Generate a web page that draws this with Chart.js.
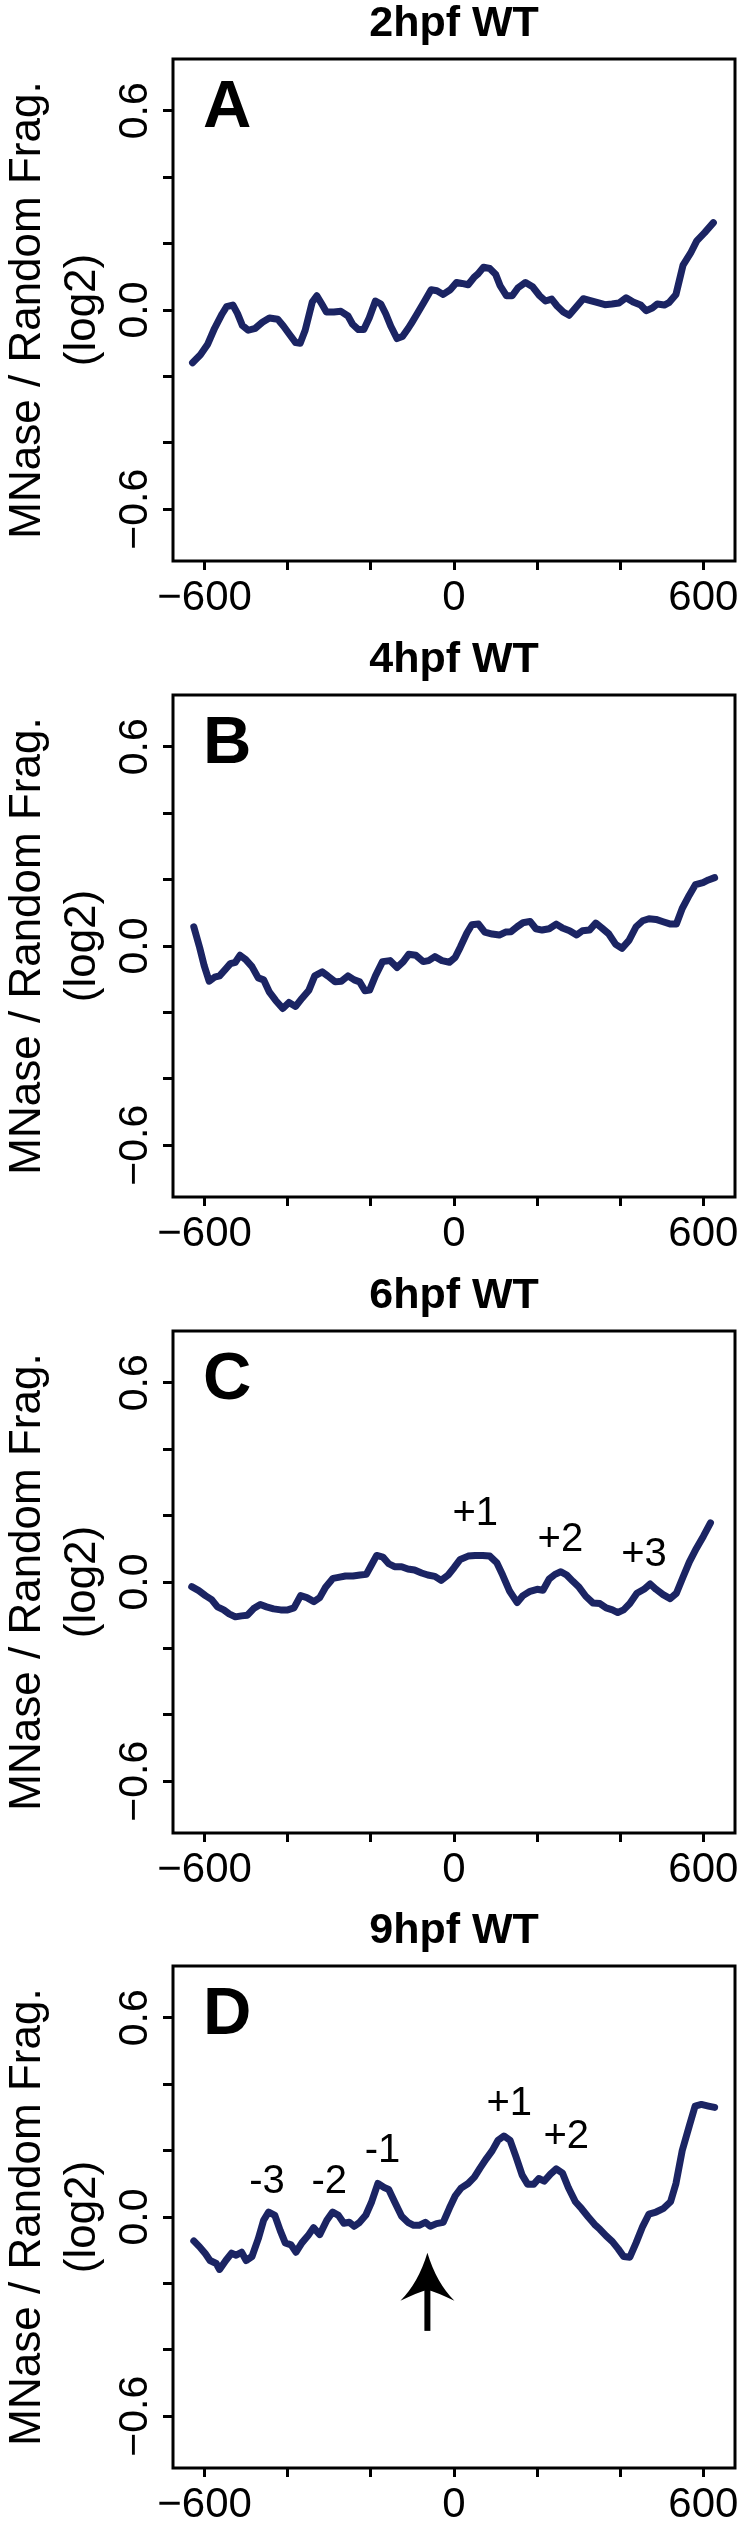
<!DOCTYPE html>
<html>
<head>
<meta charset="utf-8">
<script src="https://cdn.jsdelivr.net/npm/chart.js@4.4.0/dist/chart.umd.min.js"></script>
<style>
    body { margin: 0; background: #fff; }
    #wrap { position: relative; width: 747px; height: 2543px; overflow: hidden; }
    #wrap canvas { position: absolute; left: 0; }
</style>
</head>
<body>
<div id="wrap"></div>
<script>
const TITLES = ['2hpf WT', '4hpf WT', '6hpf WT', '9hpf WT'];
const LETTERS = ['A', 'B', 'C', 'D'];
const Y_TITLE = ['MNase / Random Frag.', '(log2)'];

const X_TICKS = [-600, -400, -200, 0, 200, 400, 600];
const X_LABELS = [-600, 0, 600];
const Y_TICKS = [-0.6, -0.4, -0.2, 0, 0.2, 0.4, 0.6];
const Y_LABELS = [-0.6, 0, 0.6];

// position relative to TSS (bp) and MNase / random fragment ratio (log2)
const posA = [-629,-610,-593,-576,-558,-547,-532,-521,-509,-495,-478,-461,-444,-424,-410,-396,-381,-370,-358,-341,-330,-318,-307,-289,-272,-255,-244,-230,-217,-204,-189,-176,-164,-152,-137,-124,-110,-101,-89,-72,-55,-41,-26,-9,6,19,34,48,57,71,86,100,111,126,140,154,172,189,206,220,235,248,263,277,292,311,328,346,363,380,397,414,431,449,462,477,489,506,517,534,551,569,584,603,624];
const ratioA = [-0.159,-0.135,-0.104,-0.055,-0.012,0.010,0.015,-0.010,-0.047,-0.061,-0.055,-0.037,-0.024,-0.028,-0.049,-0.073,-0.098,-0.100,-0.061,0.024,0.043,0.018,-0.006,-0.006,-0.004,-0.018,-0.043,-0.059,-0.059,-0.024,0.027,0.018,-0.012,-0.049,-0.086,-0.080,-0.055,-0.037,-0.012,0.024,0.061,0.058,0.047,0.061,0.083,0.080,0.076,0.098,0.108,0.129,0.125,0.108,0.073,0.043,0.043,0.067,0.083,0.070,0.043,0.027,0.033,0.012,-0.006,-0.016,0.006,0.034,0.028,0.022,0.016,0.018,0.021,0.037,0.024,0.015,-0.002,0.006,0.018,0.015,0.022,0.047,0.135,0.171,0.208,0.233,0.263];

const posB = [-626,-612,-601,-589,-576,-564,-549,-538,-526,-515,-501,-486,-471,-458,-444,-429,-412,-397,-381,-366,-349,-335,-317,-304,-286,-271,-255,-240,-227,-214,-203,-189,-172,-154,-137,-122,-109,-92,-74,-61,-46,-29,-11,3,15,31,43,59,74,92,109,124,137,152,166,183,197,212,229,246,261,278,295,309,326,341,355,372,389,404,421,438,454,469,486,503,521,535,549,566,581,599,612,627];
const ratioB = [0.058,-0.004,-0.059,-0.106,-0.094,-0.090,-0.069,-0.053,-0.049,-0.028,-0.041,-0.062,-0.096,-0.102,-0.139,-0.164,-0.188,-0.170,-0.182,-0.158,-0.133,-0.090,-0.078,-0.090,-0.108,-0.106,-0.090,-0.102,-0.108,-0.135,-0.133,-0.090,-0.047,-0.044,-0.065,-0.047,-0.025,-0.028,-0.047,-0.044,-0.032,-0.044,-0.049,-0.034,-0.004,0.039,0.064,0.066,0.042,0.036,0.033,0.042,0.043,0.058,0.070,0.074,0.052,0.048,0.052,0.066,0.054,0.046,0.033,0.046,0.048,0.069,0.055,0.037,0.005,-0.007,0.017,0.058,0.076,0.082,0.080,0.073,0.066,0.066,0.113,0.153,0.185,0.191,0.199,0.206];

const posC = [-631,-614,-598,-583,-569,-554,-541,-526,-511,-497,-482,-466,-451,-434,-417,-400,-385,-369,-354,-337,-323,-309,-291,-278,-261,-243,-226,-211,-200,-186,-171,-157,-143,-126,-111,-95,-78,-63,-46,-31,-14,0,15,34,51,69,86,103,117,134,152,166,183,200,214,229,243,257,271,286,301,317,334,351,366,381,394,408,423,440,457,472,486,503,520,535,551,566,583,600,617];
const ratioC = [-0.014,-0.026,-0.041,-0.053,-0.075,-0.084,-0.096,-0.105,-0.102,-0.100,-0.080,-0.068,-0.075,-0.081,-0.084,-0.084,-0.078,-0.041,-0.047,-0.059,-0.047,-0.016,0.011,0.014,0.018,0.018,0.021,0.023,0.048,0.080,0.075,0.055,0.046,0.046,0.039,0.036,0.027,0.021,0.017,0.005,0.021,0.043,0.068,0.078,0.080,0.080,0.078,0.058,0.021,-0.028,-0.062,-0.041,-0.028,-0.022,-0.025,0.009,0.023,0.031,0.021,0.002,-0.016,-0.043,-0.063,-0.065,-0.078,-0.084,-0.092,-0.084,-0.065,-0.034,-0.022,-0.006,-0.022,-0.038,-0.050,-0.034,0.015,0.060,0.101,0.138,0.178];

const posD = [-626,-612,-598,-587,-572,-564,-549,-535,-524,-511,-500,-486,-471,-458,-446,-431,-418,-406,-392,-380,-366,-351,-338,-323,-306,-292,-278,-265,-252,-240,-227,-212,-198,-183,-168,-157,-143,-126,-111,-97,-84,-69,-57,-42,-26,-11,3,17,34,49,63,78,92,106,120,135,149,164,177,192,204,217,232,246,261,275,292,307,323,338,351,366,381,395,408,423,438,454,469,486,503,521,534,549,566,580,595,612,627];
const ratioD = [-0.072,-0.090,-0.111,-0.131,-0.140,-0.158,-0.131,-0.109,-0.115,-0.106,-0.131,-0.119,-0.066,-0.010,0.015,0.005,-0.041,-0.078,-0.084,-0.106,-0.078,-0.056,-0.032,-0.053,-0.010,0.015,0.005,-0.019,-0.016,-0.028,-0.016,0.006,0.046,0.101,0.089,0.083,0.046,0.002,-0.016,-0.025,-0.025,-0.016,-0.028,-0.020,-0.016,0.027,0.064,0.087,0.101,0.120,0.148,0.176,0.200,0.231,0.244,0.231,0.182,0.126,0.099,0.099,0.116,0.108,0.129,0.145,0.132,0.089,0.046,0.025,0.000,-0.022,-0.037,-0.057,-0.074,-0.096,-0.119,-0.121,-0.078,-0.028,0.009,0.015,0.025,0.046,0.101,0.200,0.274,0.334,0.339,0.334,0.330];

// nucleosome labels (text, x in bp, y in log2)
const peaksC = ['+1', '+2', '+3'];
const peaksCX = [51, 256, 457];
const peaksCY = [0.206, 0.126, 0.08];
const peaksD = ['-3', '-2', '-1', '+1', '+2'];
const peaksDX = [-450, -300, -172, 133, 270];
const peaksDY = [0.105, 0.105, 0.2, 0.34, 0.241];
// arrow in D: x in bp, [tail, tip] in log2
const arrowX = -64;
const arrowY = [-0.343, -0.108];

const FONT = "'Liberation Sans', Arial, Helvetica, sans-serif";
const LINE_COLOR = '#1b2463';
const W = 747, H = 636, STEP = 2543 / 4;

const PANELS = [
    { xs: posA, ys: ratioA },
    { xs: posB, ys: ratioB },
    { xs: posC, ys: ratioC, peaks: peaksC, px: peaksCX, py: peaksCY },
    { xs: posD, ys: ratioD, peaks: peaksD, px: peaksDX, py: peaksDY, arrow: true }
];

const minus = (s) => s.replace('-', '\u2212');

function drawArrow(ctx, xs, ys) {
    const x = xs.getPixelForValue(arrowX);
    const tail = ys.getPixelForValue(arrowY[0]);
    const tip = ys.getPixelForValue(arrowY[1]);
    const back = tip + 48, notch = tip + 37, half = 27;

    ctx.save();
    ctx.fillStyle = '#000';
    ctx.fillRect(x - 3, notch - 2, 6, tail - notch + 2);
    ctx.beginPath();
    ctx.moveTo(x, tip);
    ctx.quadraticCurveTo(x + 9, tip + 30, x + half, back);
    ctx.quadraticCurveTo(x + 8, notch + 2, x, notch);
    ctx.quadraticCurveTo(x - 8, notch + 2, x - half, back);
    ctx.quadraticCurveTo(x - 9, tip + 30, x, tip);
    ctx.fill();
    ctx.restore();
}

const extras = {
    id: 'extras',
    afterDatasetsDraw(chart, args, opts) {
        const { ctx, chartArea: a } = chart;
        const xs = chart.scales.x, ys = chart.scales.y;
        const p = opts.panel;

        ctx.save();
        ctx.strokeStyle = '#000';
        ctx.lineWidth = 3;
        ctx.strokeRect(a.left, a.top, a.right - a.left, a.bottom - a.top);

        ctx.fillStyle = '#000';
        ctx.font = `bold 67px ${FONT}`;
        ctx.textAlign = 'left';
        ctx.textBaseline = 'alphabetic';
        ctx.fillText(opts.letter, a.left + 30, a.top + 68);

        if (p.peaks) {
            ctx.font = `40px ${FONT}`;
            ctx.textAlign = 'center';
            ctx.textBaseline = 'middle';
            p.peaks.forEach((t, i) => {
                ctx.fillText(t, xs.getPixelForValue(p.px[i]), ys.getPixelForValue(p.py[i]));
            });
        }
        ctx.restore();

        if (p.arrow) drawArrow(ctx, xs, ys);
    }
};

function makePanel(p, i) {
    const canvas = document.createElement('canvas');
    canvas.width = W;
    canvas.height = H;
    canvas.style.top = Math.round(i * STEP) + 'px';
    document.getElementById('wrap').appendChild(canvas);

    const tickGrid = {
        drawOnChartArea: false,
        drawTicks: true,
        color: '#000',
        lineWidth: 3
    };

    new Chart(canvas, {
        type: 'line',
        data: {
            datasets: [{
                data: p.xs.map((x, k) => ({ x: x, y: p.ys[k] })),
                borderColor: LINE_COLOR,
                borderWidth: 7,
                borderJoinStyle: 'round',
                borderCapStyle: 'round',
                pointRadius: 0,
                tension: 0
            }]
        },
        options: {
            responsive: false,
            animation: false,
            devicePixelRatio: 1,
            layout: { padding: { top: 0, right: 12, bottom: 0, left: 0 } },
            plugins: {
                legend: { display: false },
                tooltip: { enabled: false },
                title: {
                    display: true,
                    text: TITLES[i],
                    fullSize: false,
                    color: '#000',
                    font: { family: FONT, size: 43, weight: 'bold', lineHeight: 1 },
                    padding: { top: 3, bottom: 13 }
                },
                extras: { panel: p, letter: LETTERS[i] }
            },
            scales: {
                x: {
                    type: 'linear',
                    min: -676,
                    max: 676,
                    afterBuildTicks: (s) => { s.ticks = X_TICKS.map(v => ({ value: v })); },
                    afterFit: (s) => { s.height = H - 561; },
                    border: { display: false },
                    grid: { ...tickGrid, tickLength: 9 },
                    ticks: {
                        color: '#000',
                        font: { family: FONT, size: 42 },
                        padding: 3,
                        maxRotation: 0,
                        autoSkip: false,
                        callback: (v) => X_LABELS.includes(v) ? minus(String(v)) : ''
                    }
                },
                y: {
                    type: 'linear',
                    min: -0.756,
                    max: 0.756,
                    afterBuildTicks: (s) => { s.ticks = Y_TICKS.map(v => ({ value: v })); },
                    afterFit: (s) => { s.width = 173; },
                    border: { display: false },
                    grid: { ...tickGrid, tickLength: 10 },
                    ticks: {
                        color: '#000',
                        font: { family: FONT, size: 41 },
                        minRotation: 90,
                        maxRotation: 90,
                        crossAlign: 'center',
                        padding: -13,
                        autoSkip: false,
                        callback: (v) => Y_LABELS.includes(v) ? minus(v.toFixed(1)) : ''
                    },
                    title: {
                        display: true,
                        text: Y_TITLE,
                        color: '#000',
                        font: { family: FONT, size: 44, lineHeight: 1.25 },
                        padding: { top: 0, bottom: 0 }
                    }
                }
            }
        },
        plugins: [extras]
    });
}

PANELS.forEach(makePanel);
</script>
</body>
</html>
